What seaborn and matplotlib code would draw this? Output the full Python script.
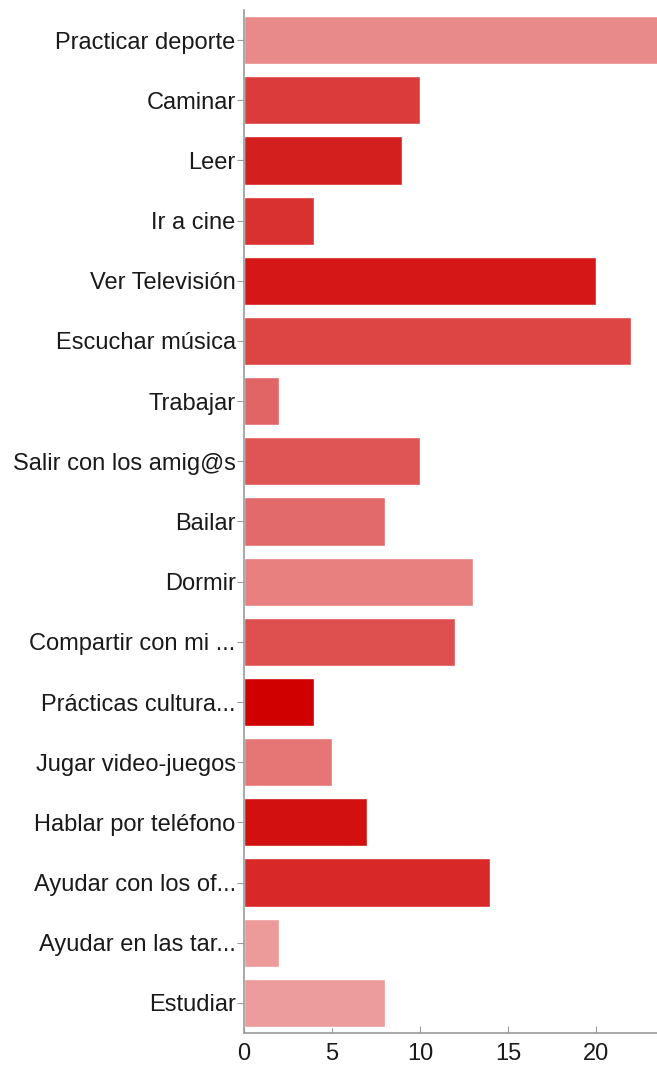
import matplotlib
matplotlib.use("Agg")
import matplotlib.pyplot as plt
import seaborn as sns
import pandas as pd

categories = ["Practicar deporte", "Caminar", "Leer", "Ir a cine", "Ver Televisión",
              "Escuchar música", "Trabajar", "Salir con los amig@s", "Bailar", "Dormir",
              "Compartir con mi ...", "Prácticas cultura...", "Jugar video-juegos",
              "Hablar por teléfono", "Ayudar con los of...", "Ayudar en las tar...", "Estudiar"]
values = [24, 10, 9, 4, 20, 22, 2, 10, 8, 13, 12, 4, 5, 7, 14, 2, 8]
colors = ["#E98A8A", "#DB3B3B", "#D41F1F", "#D93030", "#D51717", "#DD4444", "#E26565",
          "#DF5454", "#E36A6A", "#E88080", "#DE5050", "#D00000", "#E67575", "#D31010",
          "#D82828", "#EC9A9A", "#EC9C9C"]
xticks = [0, 5, 10, 15, 20]

sns.set_style("white")
plt.rcParams['font.family'] = ['Liberation Sans', 'DejaVu Sans']

df = pd.DataFrame({"cat": categories, "val": values})
fig = plt.figure(figsize=(6.57, 10.69), dpi=100)
ax = fig.add_axes([244/657, 36/1069, 1 - 244/657, 1023/1069])
sns.barplot(data=df, x="val", y="cat", hue="cat", palette=colors, legend=False,
            orient="h", width=0.8, ax=ax, saturation=1)
ax.set_xlim(0, 23.47)
ax.set_ylim(16.5, -0.5)
ax.set_xticks(xticks)
ax.set_xlabel("")
ax.set_ylabel("")
for s in ["top", "right"]:
    ax.spines[s].set_visible(False)
for s in ["left", "bottom"]:
    ax.spines[s].set_color("#9A9A9A")
    ax.spines[s].set_linewidth(1.2)
ax.tick_params(axis="y", length=5, color="#9A9A9A", labelsize=17, labelcolor="#1A1A1A", pad=1, left=True)
ax.tick_params(axis="x", length=5, color="#9A9A9A", labelsize=17, labelcolor="#1A1A1A", direction="in", pad=7, bottom=True)
fig.savefig("out.png", dpi=100)
